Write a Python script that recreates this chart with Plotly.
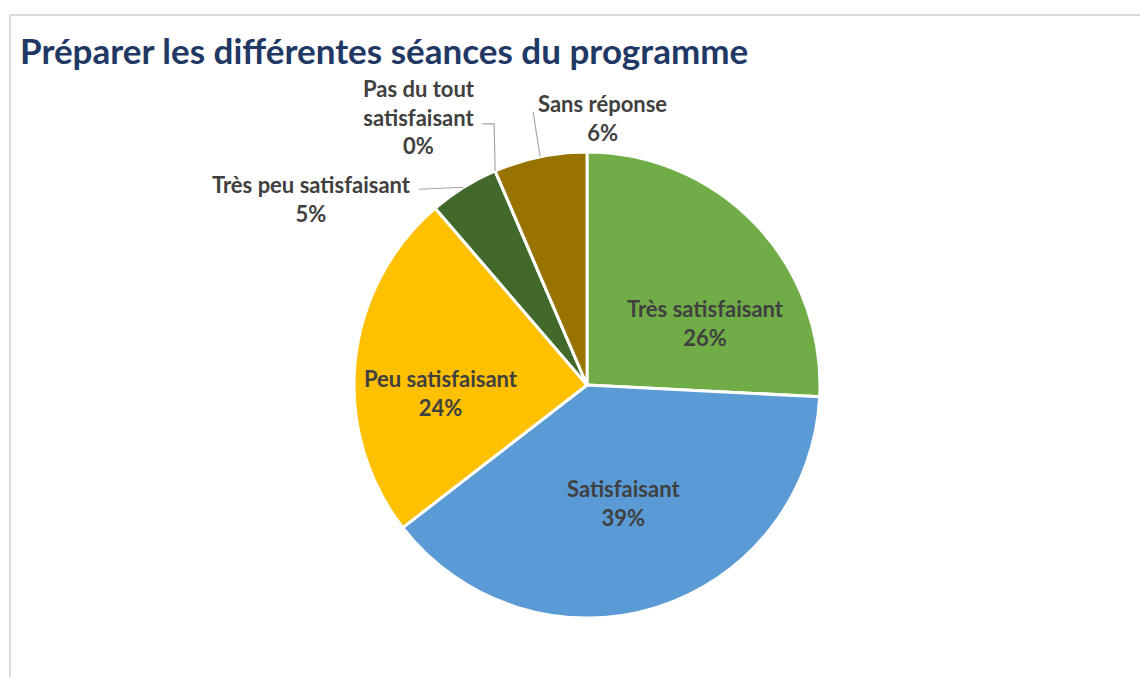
import math
import plotly.graph_objects as go

# ---- data ----
categories = ["Très satisfaisant", "Satisfaisant", "Peu satisfaisant",
              "Très peu satisfaisant", "Pas du tout satisfaisant", "Sans réponse"]
label_lines = ["Très satisfaisant", "Satisfaisant", "Peu satisfaisant",
               "Très peu satisfaisant", "Pas du tout<br>satisfaisant", "Sans réponse"]
counts = [16, 24, 15, 3, 0, 4]
colors = ["#70AD47", "#5B9BD5", "#FFC000", "#43682B", "#264478", "#997300"]
title_text = "Préparer les différentes séances du programme"

# ---- layout constants (page body has an 8px margin) ----
W, H = 1148, 677
OFF = 8
CX, CY, R = 587 - OFF, 385 - OFF, 233   # pie centre / radius in px
FONT = "Lato"
TXT = "#404040"
FS = 22

total = sum(counts)

fig = go.Figure(go.Pie(
    labels=categories, values=counts, sort=False, direction="clockwise",
    rotation=0,
    marker=dict(colors=colors, line=dict(color="white", width=3)),
    textinfo="none",
    domain=dict(x=[(CX - R) / W, (CX + R) / W], y=[1 - (CY + R) / H, 1 - (CY - R) / H]),
    showlegend=False, hoverinfo="label+percent",
))


def px2paper(x, y):
    return x / W, 1 - y / H


# label placement style: radius fraction at mid-angle, then (dx, dy) nudge in px,
# plus optional leader polyline (offsets from the rim anchor)
label_style = {
    0: (0.57, (22, 30), None),
    1: (0.53, (0, 0), None),
    2: (0.63, (0, 23), None),
    3: (1.0, (-152, 12), [(-45, 2)]),
    4: (1.0, (-76, -54), [(-1, -47), (-13, -47)]),
    5: (1.0, (62, -39), [(-7, -45)]),
}

shapes, annotations = [], []
cum = 0.0
for i, c in enumerate(counts):
    start = cum
    cum += c / total
    mid = (start + cum) / 2 * 2 * math.pi
    rf, (dx, dy), leader = label_style[i]
    bx = CX + rf * R * math.sin(mid)
    by = CY - rf * R * math.cos(mid)
    tx, ty = px2paper(bx + dx, by + dy)
    pct = round(c / total * 100)
    annotations.append(dict(
        x=tx, y=ty, xref="paper", yref="paper", xanchor="center", yanchor="middle",
        showarrow=False, text=f"<b>{label_lines[i]}<br>{pct}%</b>",
        font=dict(family=FONT, size=FS, color=TXT), align="center",
    ))
    if leader:
        pts = [(bx, by)] + [(bx + ox, by + oy) for ox, oy in leader]
        p = [px2paper(x, y) for x, y in pts]
        shapes.append(dict(type="path", xref="paper", yref="paper",
                           path="M " + " L ".join(f"{x:.5f},{y:.5f}" for x, y in p),
                           line=dict(color="#A6A6A6", width=1.2)))

# chart frame
shapes.append(dict(type="rect", xref="paper", yref="paper",
                   x0=(10 - OFF) / W, y0=-0.05, x1=1.05, y1=1 - (15 - OFF) / H,
                   line=dict(color="#D9D9D9", width=2), layer="below"))

annotations.append(dict(
    x=(18 - OFF) / W, y=1 - (50 - OFF) / H, xref="paper", yref="paper",
    xanchor="left", yanchor="middle", showarrow=False, text=f"<b>{title_text}</b>",
    font=dict(family=FONT, size=35, color="#1F3864"),
))

fig.update_layout(
    width=W, height=H, margin=dict(l=0, r=0, t=0, b=0),
    paper_bgcolor="white", plot_bgcolor="white",
    shapes=shapes, annotations=annotations,
)
fig.write_html("out.html")
